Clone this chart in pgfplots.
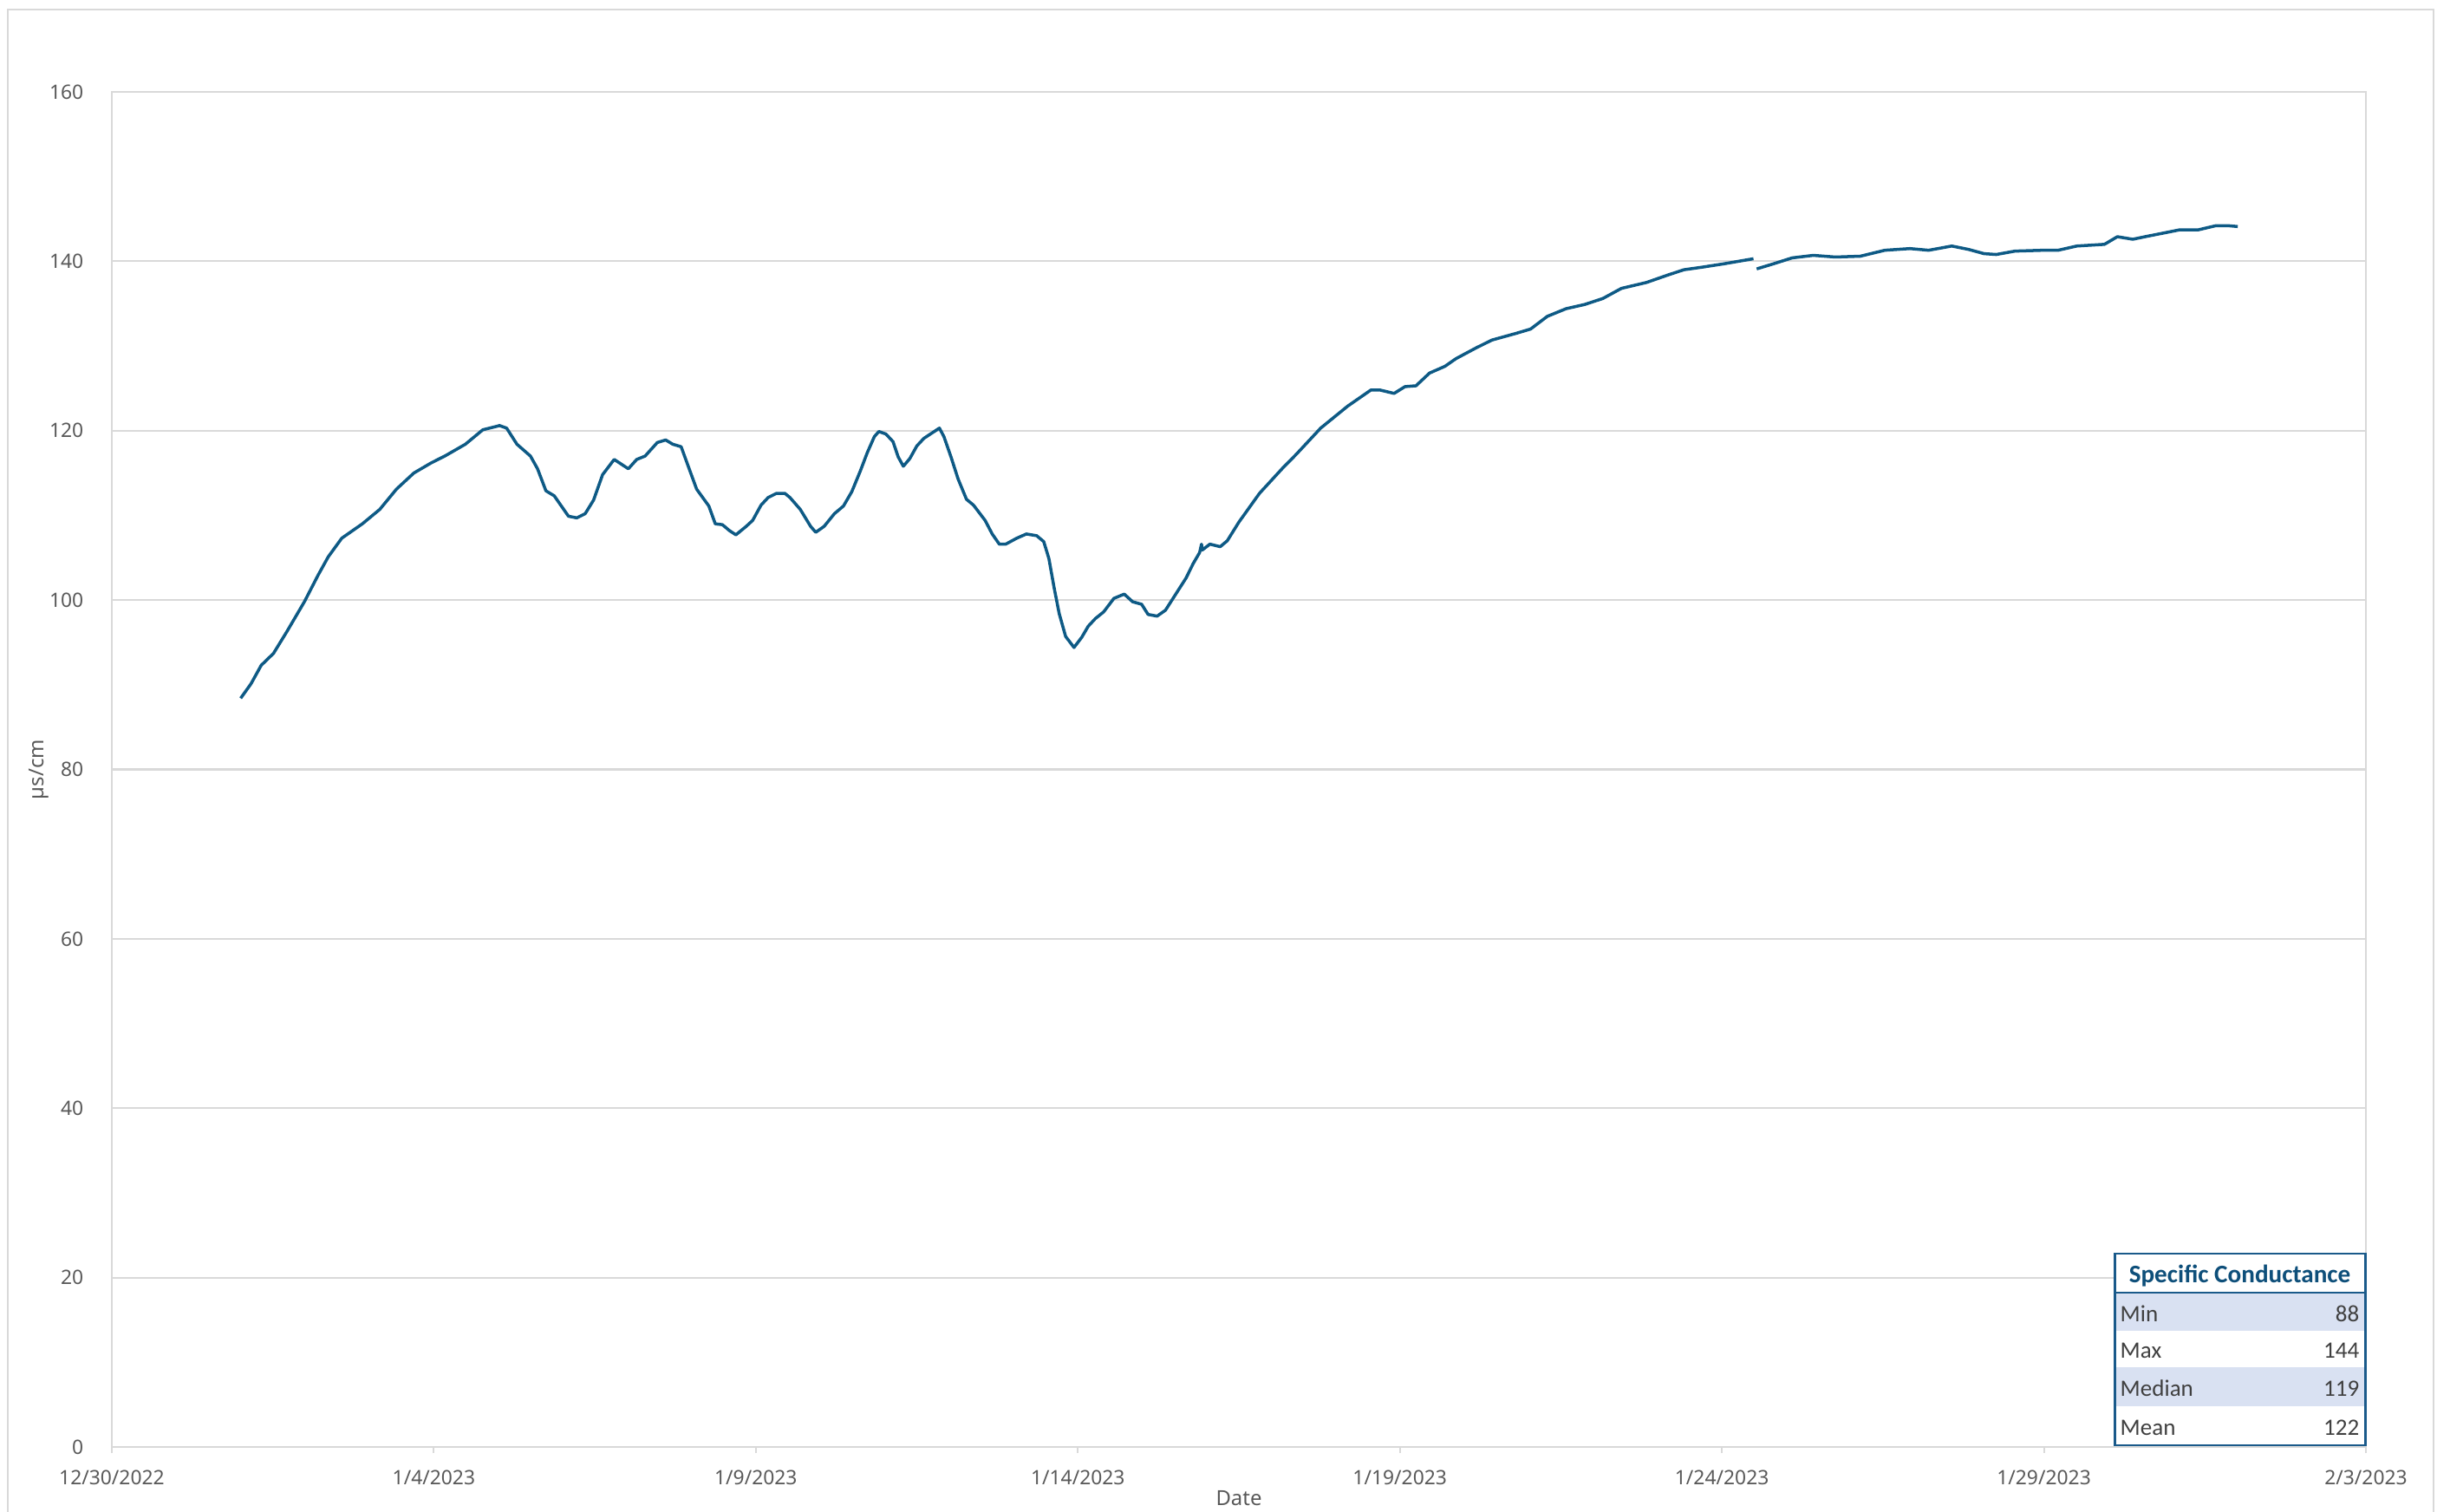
\documentclass[border=0pt]{standalone}
\usepackage{pgfplots}
\pgfplotsset{compat=1.18}
\usepackage{fontspec}
\setmainfont{Noto Sans}
\newfontfamily\tabfont{Carlito}
\definecolor{linecol}{HTML}{0E5A85}
\definecolor{gridcol}{HTML}{D9D9D9}
\definecolor{txtcol}{HTML}{595959}
\definecolor{tabblue}{HTML}{1A5A8A}
\definecolor{tabhead}{HTML}{0E4F7A}
\definecolor{rowfill}{HTML}{D9E1F2}
\definecolor{tabtxt}{HTML}{404040}
\begin{document}
\begin{tikzpicture}[x=1cm,y=1cm]
\path[use as bounding box] (0,0) rectangle (28.11,17.43);
\draw[gridcol, line width=0.6pt] (0.09,-0.2) -- (0.09,17.32) -- (28.07,17.32) -- (28.07,-0.2);
\begin{axis}[
  at={(1.29cm,0.74cm)}, anchor=south west,
  width=26cm, height=15.63cm, scale only axis,
  xmin=0, xmax=35, ymin=0, ymax=160,
  xtick={0,5,10,15,20,25,30,35},
  xticklabels={12/30/2022,1/4/2023,1/9/2023,1/14/2023,1/19/2023,1/24/2023,1/29/2023,2/3/2023},
  ytick={0,20,40,60,80,100,120,140,160},
  ymajorgrids, major grid style={gridcol, line width=0.6pt},
  axis line style={gridcol, line width=0.6pt},
  tick align=outside, xtick pos=left, ytick pos=left,
  xtick style={gridcol, line width=0.6pt}, major tick length=0.07cm,
  ytick style={draw=none},
  /pgf/number format/assume math mode=true,
  tick label style={font=\fontsize{6.5}{8}\selectfont, text=txtcol},
  yticklabel style={anchor=east, inner sep=0pt, xshift=-0.25cm},
  xticklabel style={anchor=north, inner sep=0pt, yshift=-0.19cm},
  xlabel={Date}, ylabel={µs/cm},
  label style={font=\fontsize{6.8}{8}\selectfont, text=txtcol},
  xlabel style={at={(axis description cs:0.5,-0.038)}, anchor=center, inner sep=0pt},
  ylabel style={at={(axis description cs:-0.0323,0.5)}, anchor=center, rotate=0, inner sep=0pt},
]
\addplot[linecol, line width=1pt, line join=round] coordinates {
(2.00,88.4)(2.16,90.1)(2.32,92.3)(2.51,93.7)(2.72,96.3)(2.99,99.8)(3.20,102.9)(3.36,105.1)
(3.57,107.3)(3.89,109.0)(4.16,110.7)(4.42,113.1)(4.69,115.0)(4.96,116.2)(5.17,117.0)(5.49,118.4)
(5.76,120.1)(6.02,120.6)(6.13,120.3)(6.29,118.4)(6.50,117.0)(6.61,115.5)(6.74,112.9)(6.87,112.3)
(7.09,109.9)(7.22,109.7)(7.35,110.2)(7.48,111.8)(7.62,114.8)(7.80,116.6)(8.02,115.5)(8.15,116.6)
(8.28,117.0)(8.47,118.6)(8.60,118.9)(8.71,118.4)(8.84,118.1)(8.95,115.8)(9.08,113.1)(9.27,111.1)
(9.37,109.0)(9.48,108.9)(9.59,108.2)(9.69,107.7)(9.85,108.7)(9.95,109.4)(10.08,111.2)(10.19,112.1)
(10.32,112.6)(10.45,112.6)(10.53,112.1)(10.69,110.7)(10.85,108.7)(10.93,108.0)(11.06,108.7)
(11.22,110.2)(11.36,111.1)(11.49,112.8)(11.62,115.2)(11.73,117.4)(11.84,119.3)(11.91,119.9)
(12.02,119.6)(12.13,118.7)(12.21,116.9)(12.29,115.8)(12.39,116.7)(12.50,118.2)(12.61,119.1)
(12.71,119.6)(12.85,120.3)(12.92,119.3)(13.03,116.9)(13.14,114.3)(13.27,111.9)(13.38,111.2)
(13.56,109.4)(13.67,107.8)(13.78,106.6)(13.88,106.6)(14.05,107.3)(14.20,107.8)(14.36,107.6)
(14.47,106.9)(14.55,104.9)(14.63,101.5)(14.71,98.4)(14.81,95.7)(14.94,94.4)(15.06,95.6)
(15.16,96.9)(15.27,97.8)(15.40,98.6)(15.56,100.2)(15.72,100.7)(15.85,99.8)(15.99,99.5)
(16.09,98.3)(16.23,98.1)(16.36,98.8)(16.52,100.7)(16.68,102.6)(16.79,104.3)(16.89,105.6)
(16.92,106.6)(16.93,105.9)(17.05,106.6)(17.21,106.3)(17.32,107.0)(17.50,109.2)(17.66,110.9)
(17.82,112.6)(18.17,115.5)(18.39,117.2)(18.77,120.3)(19.19,122.9)(19.55,124.8)(19.69,124.8)
(19.91,124.4)(20.08,125.2)(20.25,125.3)(20.46,126.8)(20.70,127.6)(20.87,128.5)(21.19,129.8)
(21.43,130.7)(21.81,131.5)(22.03,132.0)(22.29,133.5)(22.58,134.4)(22.87,134.9)(23.15,135.6)
(23.44,136.8)(23.83,137.5)(24.17,138.4)(24.41,139.0)(24.69,139.3)(25.03,139.7)(25.49,140.3)
};
\addplot[linecol, line width=1pt, line join=round] coordinates {
(25.54,139.1)(25.80,139.7)(26.09,140.4)(26.42,140.7)(26.76,140.5)(27.15,140.6)(27.53,141.3)
(27.92,141.5)(28.21,141.3)(28.57,141.8)(28.83,141.4)(29.07,140.9)(29.26,140.8)(29.55,141.2)
(29.98,141.3)(30.22,141.3)(30.51,141.8)(30.94,142.0)(31.14,142.9)(31.38,142.6)(31.57,142.9)
(32.10,143.7)(32.39,143.7)(32.67,144.2)(32.86,144.2)(33.01,144.1)
};
\end{axis}
% statistics table
\fill[white] (24.39,0.76) rectangle (27.28,2.97);
\fill[rowfill] (24.39,2.08) rectangle (27.28,2.52);
\fill[rowfill] (24.39,1.21) rectangle (27.28,1.66);
\draw[tabblue, line width=0.6pt] (24.39,2.52) -- (27.28,2.52);
\draw[tabblue, line width=0.85pt] (24.39,0.76) rectangle (27.28,2.97);
\node[font=\tabfont\bfseries\fontsize{8.3}{10}\selectfont, text=tabhead] at (25.835,2.71) {Specific Conductance};
\begin{scope}[every node/.style={font=\tabfont\fontsize{7.7}{9}\selectfont, text=tabtxt, inner sep=0pt}]
\node[anchor=west] at (24.45,2.28) {Min};
\node[anchor=east] at (27.22,2.28) {88};
\node[anchor=west] at (24.45,1.85) {Max};
\node[anchor=east] at (27.22,1.85) {144};
\node[anchor=west] at (24.45,1.415) {Median};
\node[anchor=east] at (27.22,1.415) {119};
\node[anchor=west] at (24.45,0.965) {Mean};
\node[anchor=east] at (27.22,0.965) {122};
\end{scope}
\end{tikzpicture}
\end{document}
